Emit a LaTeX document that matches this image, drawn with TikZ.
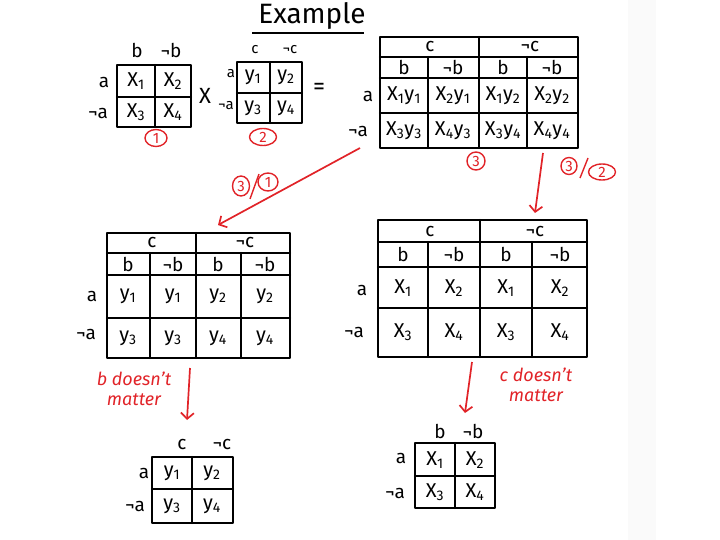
\documentclass[tikz,border=0pt]{standalone}
\usepackage{fontspec}
\setmainfont{Fira Sans}
\usetikzlibrary{arrows.meta,shapes.geometric}
\definecolor{pen}{RGB}{225,35,40}
\newcommand\Xs[1]{X\textsubscript{#1}}
\newcommand\Ys[1]{y\textsubscript{#1}}
\begin{document}
\begin{tikzpicture}[x=1pt,y=-1pt,
  tline/.style={line width=2.3pt,line join=round,line cap=round},
  lab/.style={font=\fontsize{19}{19}\selectfont,inner sep=1pt},
  slab/.style={font=\fontsize{15}{15}\selectfont,inner sep=1pt},
  cell/.style={font=\fontsize{20}{20}\selectfont,inner sep=1pt},
  rtxt/.style={text=pen,font=\fontsize{18}{20}\selectfont\itshape,inner sep=1pt},
  rnum/.style={draw=pen,line width=1.4pt,ellipse,text=pen,inner sep=0pt,
    font=\fontsize{15}{15}\selectfont},
  rarrow/.style={draw=pen,line width=1.7pt,-{Straight Barb[length=6pt,width=13pt]}}]
\useasboundingbox (0,0) rectangle (720,540);
\fill[black!2] (628,0) rectangle (656,540);
% title
\node[font=\fontsize{28}{28}\selectfont] (title) at (312,16) {Example};
\draw[line width=1.8pt] (252,33) -- (364,33);

% table 1
\draw[tline] (117,65) rectangle (191,127);
\draw[tline] (155,65) -- (155,127) (117,97) -- (191,97);
\node[cell] (t1c1) at (136,81) {\Xs1};
\node[cell] (t1c2) at (173,81) {\Xs2};
\node[cell] (t1c3) at (136,112) {\Xs3};
\node[cell] (t1c4) at (173,112) {\Xs4};
\node[lab] (t1b) at (137,50) {b};
\node[lab] (t1nb) at (171,50) {¬b};
\node[lab] (t1a) at (104,82) {a};
\node[lab] (t1na) at (98,113) {¬a};
\node[rnum,minimum width=22pt,minimum height=17pt] (n1) at (156,138) {1};

\node[font=\fontsize{22}{22}\selectfont] (times) at (205,96) {X};

% table 2
\draw[tline] (237,62) rectangle (302,123);
\draw[tline] (270,62) -- (270,123) (237,93) -- (302,93);
\node[cell] (t2c1) at (253,77) {\Ys1};
\node[cell] (t2c2) at (286,77) {\Ys2};
\node[cell] (t2c3) at (253,108) {\Ys3};
\node[cell] (t2c4) at (286,108) {\Ys4};
\node[slab] (t2c) at (255,50) {c};
\node[slab] (t2nc) at (290,50) {¬c};
\node[slab] (t2a) at (231,74) {a};
\node[slab] (t2na) at (226,106) {¬a};
\node[rnum,minimum width=27pt,minimum height=17pt] (n2) at (263,137) {2};

\node[font=\fontsize{24}{24}\selectfont] (eq) at (319,89) {=};

% table 3
\draw[tline] (380,37) rectangle (578,148);
\draw[tline] (380,57) -- (578,57) (380,78) -- (578,78) (380,113) -- (578,113);
\draw[tline] (479,37) -- (479,148) (428,57) -- (428,148) (527,57) -- (527,148);
\node[lab] (t3c) at (430,46) {c};
\node[lab] (t3nc) at (530,46) {¬c};
\node[lab] (t3h1) at (404,67) {b};
\node[lab] (t3h2) at (453,67) {¬b};
\node[lab] (t3h3) at (503,67) {b};
\node[lab] (t3h4) at (552,67) {¬b};
\node[cell] (t3r1) at (404,96) {\Xs1\Ys1};
\node[cell] (t3r2) at (453,96) {\Xs2\Ys1};
\node[cell] (t3r3) at (503,96) {\Xs1\Ys2};
\node[cell] (t3r4) at (552,96) {\Xs2\Ys2};
\node[cell] (t3s1) at (404,131) {\Xs3\Ys3};
\node[cell] (t3s2) at (453,131) {\Xs4\Ys3};
\node[cell] (t3s3) at (503,131) {\Xs3\Ys4};
\node[cell] (t3s4) at (552,131) {\Xs4\Ys4};
\node[lab] (t3a) at (368,96) {a};
\node[lab] (t3na) at (358,131) {¬a};
\node[rnum,minimum width=18pt,minimum height=18pt] (n3) at (476,161) {3};

% table 4
\draw[tline] (107,233) rectangle (290,358);
\draw[tline] (107,253) -- (290,253) (107,275) -- (290,275) (107,318) -- (290,318);
\draw[tline] (196,233) -- (196,358) (150,253) -- (150,358) (241,253) -- (241,358);
\node[lab] (t4c) at (152,242) {c};
\node[lab] (t4nc) at (245,242) {¬c};
\node[lab] (t4h1) at (128,264) {b};
\node[lab] (t4h2) at (173,264) {¬b};
\node[lab] (t4h3) at (218,264) {b};
\node[lab] (t4h4) at (265,264) {¬b};
\node[cell] (t4r1) at (128,296) {\Ys1};
\node[cell] (t4r2) at (173,296) {\Ys1};
\node[cell] (t4r3) at (218,296) {\Ys2};
\node[cell] (t4r4) at (265,296) {\Ys2};
\node[cell] (t4s1) at (128,338) {\Ys3};
\node[cell] (t4s2) at (173,338) {\Ys3};
\node[cell] (t4s3) at (218,338) {\Ys4};
\node[cell] (t4s4) at (265,338) {\Ys4};
\node[lab] (t4a) at (92,296) {a};
\node[lab] (t4na) at (86,334) {¬a};

% table 5
\draw[tline] (378,220) rectangle (587,357);
\draw[tline] (378,242) -- (587,242) (378,267) -- (587,267) (378,308) -- (587,308);
\draw[tline] (480,220) -- (480,357) (428,242) -- (428,357) (532,242) -- (532,357);
\node[lab] (t5c) at (430,231) {c};
\node[lab] (t5nc) at (535,231) {¬c};
\node[lab] (t5h1) at (403,254) {b};
\node[lab] (t5h2) at (454,254) {¬b};
\node[lab] (t5h3) at (506,254) {b};
\node[lab] (t5h4) at (560,254) {¬b};
\node[cell] (t5r1) at (403,288) {\Xs1};
\node[cell] (t5r2) at (454,288) {\Xs2};
\node[cell] (t5r3) at (506,288) {\Xs1};
\node[cell] (t5r4) at (560,288) {\Xs2};
\node[cell] (t5s1) at (403,332) {\Xs3};
\node[cell] (t5s2) at (454,332) {\Xs4};
\node[cell] (t5s3) at (506,332) {\Xs3};
\node[cell] (t5s4) at (560,332) {\Xs4};
\node[lab] (t5a) at (362,290) {a};
\node[lab] (t5na) at (354,332) {¬a};

% table 6
\draw[tline] (152,457) rectangle (233,523);
\draw[tline] (192,457) -- (192,523) (152,489) -- (233,489);
\node[cell] (t6c1) at (172,473) {\Ys1};
\node[cell] (t6c2) at (212,473) {\Ys2};
\node[cell] (t6c3) at (172,506) {\Ys3};
\node[cell] (t6c4) at (212,506) {\Ys4};
\node[lab] (t6c) at (182,444) {c};
\node[lab] (t6nc) at (222,444) {¬c};
\node[lab] (t6a) at (144,473) {a};
\node[lab] (t6na) at (135,506) {¬a};

% table 7
\draw[tline] (415,443) rectangle (495,508);
\draw[tline] (455,443) -- (455,508) (415,476) -- (495,476);
\node[cell] (t7c1) at (435,460) {\Xs1};
\node[cell] (t7c2) at (475,460) {\Xs2};
\node[cell] (t7c3) at (435,492) {\Xs3};
\node[cell] (t7c4) at (475,492) {\Xs4};
\node[lab] (t7b) at (440,431) {b};
\node[lab] (t7nb) at (473,431) {¬b};
\node[lab] (t7a) at (401,458) {a};
\node[lab] (t7na) at (395,493) {¬a};

% red arrows
\coordinate (a1s) at (360,148);
\coordinate (a1e) at (218,225);
\coordinate (a2s) at (543,153);
\coordinate (a2e) at (535,213);
\coordinate (a3s) at (190,368);
\coordinate (a3e) at (187,420);
\coordinate (a4s) at (472,362);
\coordinate (a4e) at (465,413);
\draw[rarrow] (a1s) -- (a1e);
\draw[rarrow] (a2s) -- (a2e);
\draw[rarrow] (a3s) -- (a3e);
\draw[rarrow] (a4s) -- (a4e);

% red labels
\node[rnum,minimum width=17pt,minimum height=20pt] (l1a) at (241,186) {3};
\node[rnum,minimum width=20pt,minimum height=18pt] (l1b) at (268,182) {1};
\draw[pen,line width=1.4pt] (250,199) -- (259,174);
\node[rnum,minimum width=16pt,minimum height=17pt] (l2a) at (569,166) {3};
\node[rnum,minimum width=27pt,minimum height=16pt] (l2b) at (602,172) {2};
\draw[pen,line width=1.4pt] (580,178) -- (588,158);
\node[rtxt,align=center] (lb) at (134,389) {b doesn't\\matter};
\node[rtxt,align=center] (lc) at (536,385) {c doesn't\\matter};
\end{tikzpicture}
\end{document}
